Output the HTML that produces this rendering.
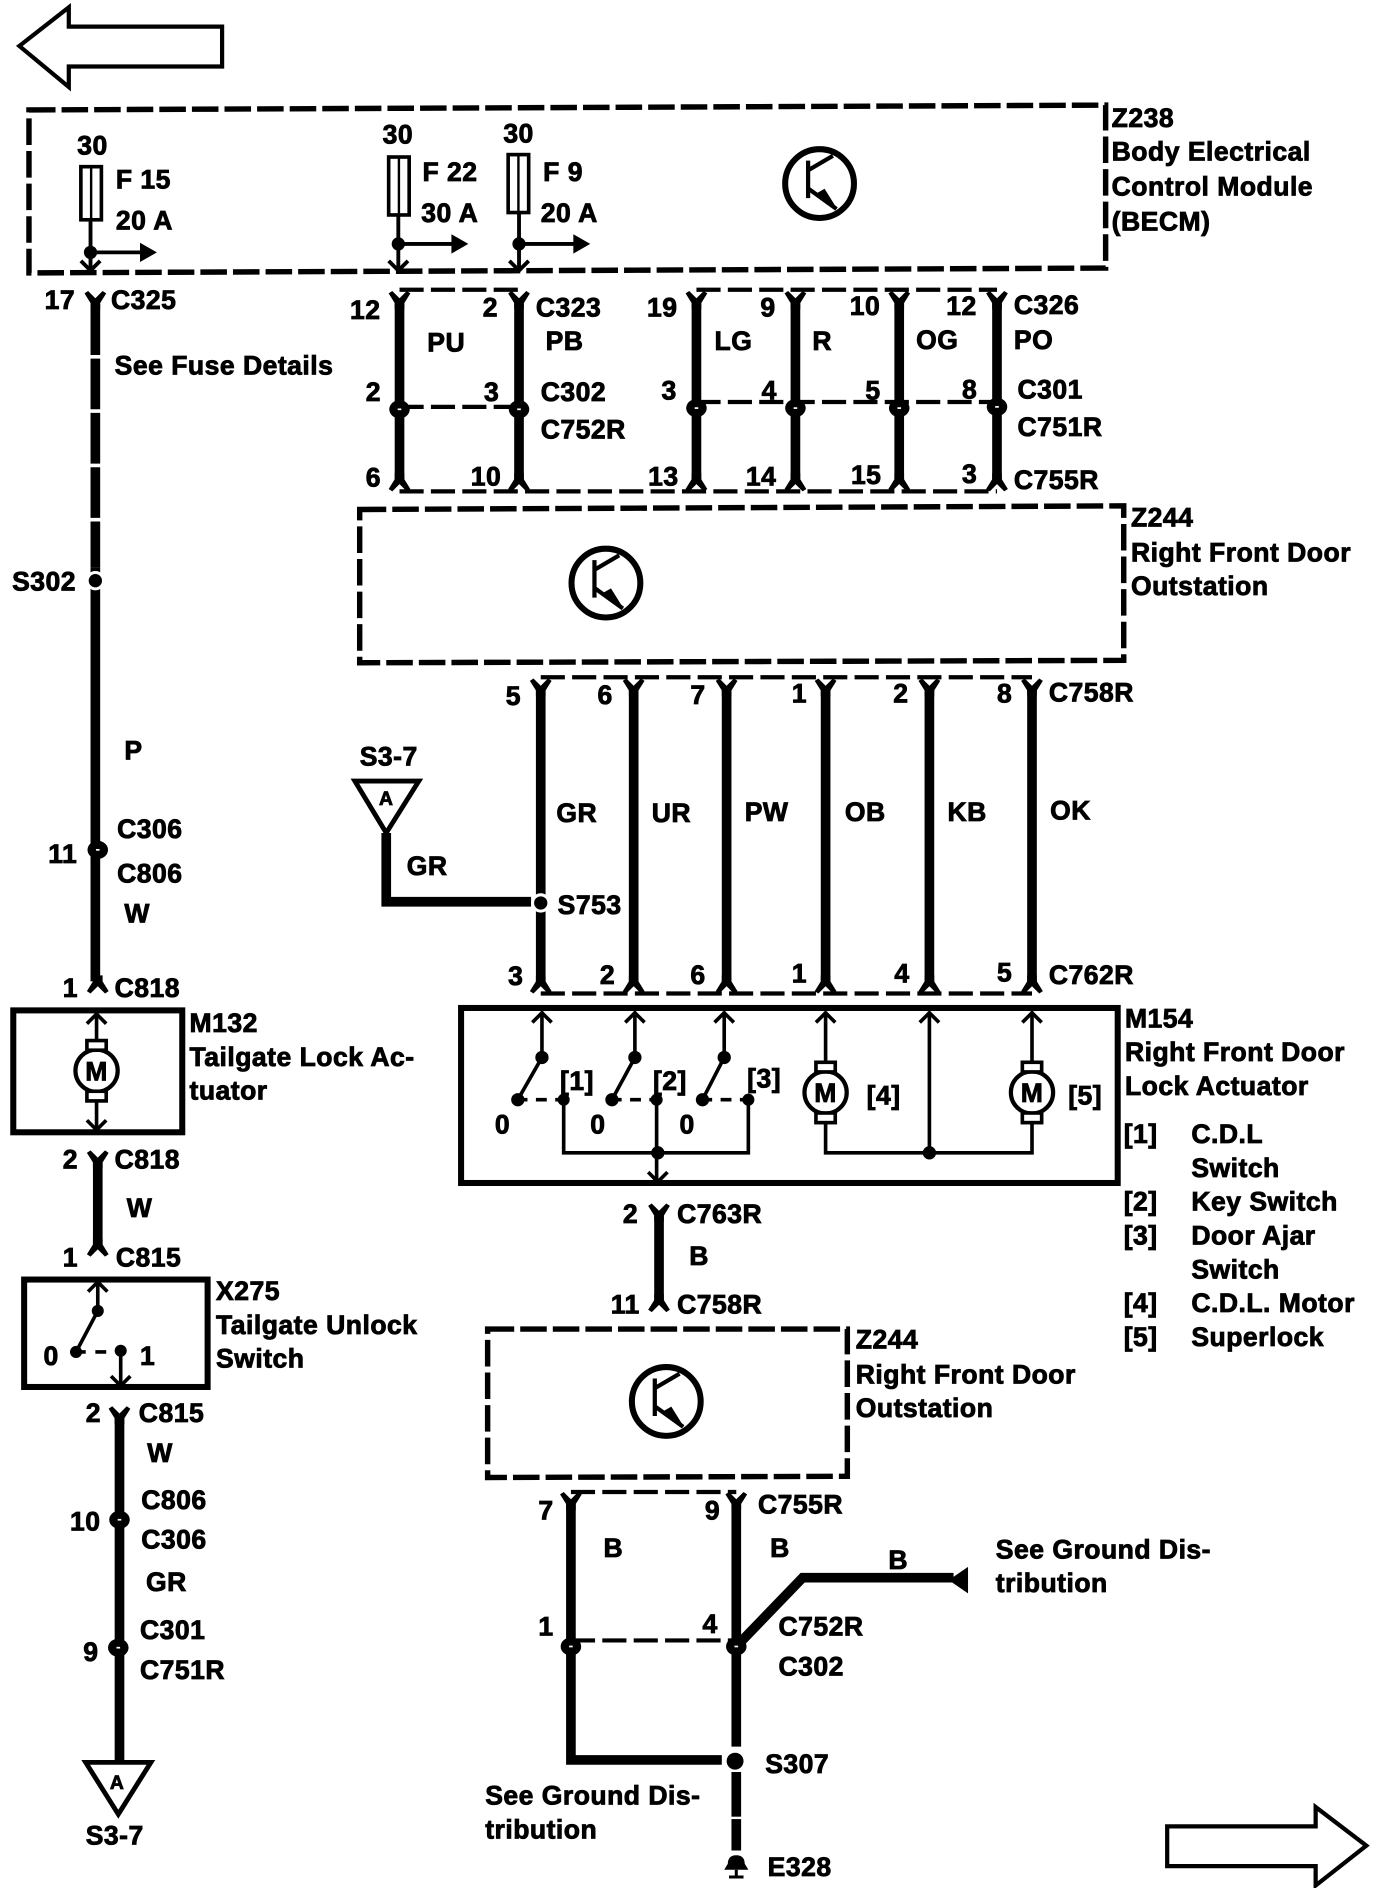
<!DOCTYPE html>
<html><head><meta charset="utf-8"><style>
html,body{margin:0;padding:0;background:#fff}
svg{display:block}
text{font-family:"Liberation Sans",sans-serif;font-weight:bold;font-size:22px;fill:#000;stroke:#000;stroke-width:.7;letter-spacing:.4px}
</style></head><body>
<svg width="1376" height="1888" viewBox="0 0 1140 1564" xmlns="http://www.w3.org/2000/svg">
<defs>
<g id="tr" fill="none" stroke="#000"><circle r="28.500" stroke-width="5"/><path d="M-9.500,-19V12M-9.500,-11L11,-23M-9.500,4L14,21" stroke-width="3.500"/><path d="M-3,9L4,5L14,21Z" fill="#000" stroke-width="1"/></g>
<path id="fd" d="M-4,10V5L-9,-3L-6,-5L0,1L6,-5L9,-3L4,5V10Z" fill="#000"/>
<path id="fu" d="M-4,-10V-5L-9,3L-6,5L0,-1L6,5L9,3L4,-5V-10Z" fill="#000"/>
<g id="cj"><ellipse rx="8.500" ry="7.500" fill="#000"/><rect x="-1.500" y="-.7" width="3" height="1.400" fill="#fff"/></g>
<g id="m"><circle r="17.500" fill="#fff" stroke="#000" stroke-width="3.500"/><rect x="-8" y="-25" width="16" height="8" fill="#fff" stroke="#000" stroke-width="3"/><rect x="-8" y="17" width="16" height="8" fill="#fff" stroke="#000" stroke-width="3"/><text x="0" y="8" text-anchor="middle">M</text></g>
</defs>
<rect width="1140" height="1564" fill="#fff"/>
<g fill="none" stroke="#000" stroke-width="3.500">
<path d="M16,38L57,6V22H184V55H57V72Z"/>
<path d="M967,1513H1090V1497L1132,1529L1090,1562V1546H967Z"/>
</g>
<g fill="none" stroke="#000" stroke-width="4.500" stroke-dasharray="22 5">
<path d="M24,91L916,87V222L24,226Z"/>
<path d="M298,422L931,419V547L298,549Z"/>
<path d="M404,1101H702V1223L404,1224Z"/>
</g>
<g fill="none" stroke="#000" stroke-width="3.500" stroke-dasharray="20 6">
<path d="M331,240H430M577,240H826M331,407H826M331,337H430M577,333H826M448,561H855M448,823H855M473,1236H610M473,1359H610"/>
</g>
<use href="#tr" x="679" y="152"/><use href="#tr" x="502" y="483"/><use href="#tr" x="552" y="1161"/>
<!-- fuses -->
<g fill="#fff" stroke="#000" stroke-width="3">
<rect x="67" y="138" width="17" height="44"/><rect x="322" y="130" width="17" height="48"/><rect x="421" y="128" width="17" height="48"/>
</g>
<path d="M75.500,138V182M330.500,130V178M429.500,128V176" stroke="#000" stroke-width="2"/>
<g stroke="#000" stroke-width="3.200" fill="none">
<path d="M75,182V224M75,209H118M330,178V224M330,202H376M430,176V224M430,202H477"/>
<path d="M67,216L75,224L83,216M322,216L330,224L338,216M422,216L430,224L438,216"/>
</g>
<g fill="#000">
<circle cx="75" cy="209" r="5.500"/><circle cx="330" cy="202" r="5.500"/><circle cx="430" cy="202" r="5.500"/>
<path d="M116,201L130,209L116,217ZM374,194L388,202L374,210ZM475,194L489,202L475,210Z"/>
</g>
<!-- thick wires -->
<g stroke="#000" stroke-width="8" fill="none">
<path d="M79,252V470" stroke-dasharray="42 3"/>
<path d="M79,470V813M81,963V1031M99,1175V1460M331,251V397M430,251V397M577,251V397M659,251V397M745,251V397M826,251V397M448,572V813M525,572V813M602,572V813M684,572V813M770,572V813M855,572V813M546,1007V1077M473,1246V1458H598M610,1246V1447M610,1468V1533M610,1364L665,1307H790"/>
<path d="M320,690V747H440"/>
<path d="M610,1505V1507" stroke="#fff" stroke-width="9"/>
</g>
<path d="M802,1298V1320L786,1309Z" fill="#000"/>
<circle cx="79" cy="481" r="8" fill="#fff"/><circle cx="448" cy="748" r="8" fill="#fff"/>
<g fill="#000">
<circle cx="79" cy="481" r="5.500"/><circle cx="448" cy="748" r="5.500"/><circle cx="609" cy="1459" r="7"/>
</g>
<!-- connector markers -->
<g>
<use href="#fd" x="79" y="246"/><use href="#fu" x="81" y="818"/><use href="#fd" x="81" y="958"/><use href="#fu" x="81" y="1036"/>
<use href="#fd" x="99" y="1170"/><use href="#fd" x="546" y="1002"/><use href="#fu" x="546" y="1082"/>
<use href="#fd" x="331" y="246"/><use href="#fd" x="430" y="246"/><use href="#fd" x="577" y="246"/><use href="#fd" x="659" y="246"/><use href="#fd" x="745" y="246"/><use href="#fd" x="826" y="246"/>
<use href="#fu" x="331" y="402"/><use href="#fu" x="430" y="402"/><use href="#fu" x="577" y="402"/><use href="#fu" x="659" y="402"/><use href="#fu" x="745" y="402"/><use href="#fu" x="826" y="402"/>
<use href="#fd" x="448" y="567"/><use href="#fd" x="525" y="567"/><use href="#fd" x="602" y="567"/><use href="#fd" x="684" y="567"/><use href="#fd" x="770" y="567"/><use href="#fd" x="855" y="567"/>
<use href="#fu" x="448" y="818"/><use href="#fu" x="525" y="818"/><use href="#fu" x="602" y="818"/><use href="#fu" x="684" y="818"/><use href="#fu" x="770" y="818"/><use href="#fu" x="855" y="818"/>
<use href="#fd" x="473" y="1241"/><use href="#fd" x="610" y="1241"/>
<use href="#cj" x="331" y="339"/><use href="#cj" x="430" y="339"/><use href="#cj" x="577" y="338"/><use href="#cj" x="659" y="338"/><use href="#cj" x="745" y="338"/><use href="#cj" x="826" y="337"/>
<use href="#cj" x="81" y="704"/><use href="#cj" x="99" y="1259"/><use href="#cj" x="98" y="1365"/><use href="#cj" x="473" y="1364"/><use href="#cj" x="610" y="1364"/>
</g>
<!-- triangles -->
<path d="M294,647H347L320,690Z M71,1460H125L98,1503Z" fill="#fff" stroke="#000" stroke-width="4"/>
<!-- boxes -->
<g fill="none" stroke="#000" stroke-width="5">
<rect x="11" y="837" width="140" height="101"/><rect x="20" y="1060" width="152" height="89"/><rect x="382" y="835" width="544" height="145"/>
</g>
<g fill="none" stroke="#000" stroke-width="3">
<path d="M80,840V936M81,1062V1086L63,1120M100,1119V1148"/>
<path d="M449,838V876L429,911M526,838V876L507,911M600,838V876L582,911M467,911V955H620V911M544,911V980M684,838V955H855V838M770,838V955"/>
<path d="M63,1120H100" stroke-dasharray="8 8 9 8 6"/>
<path d="M429,911H467M507,911H544M582,911H620" stroke-dasharray="8 7 9 7 8"/>
<path d="M72,848L80,840L88,848M72,928L80,936L88,928M73,1070L81,1062L89,1070M92,1140L100,1148L108,1140M441,847L449,839L457,847M518,847L526,839L534,847M592,847L600,839L608,847M676,847L684,839L692,847M762,847L770,839L778,847M847,847L855,839L863,847M537,971L545,979L553,971"/>
</g>
<g fill="#000">
<circle cx="81" cy="1086" r="5"/><circle cx="63" cy="1120" r="5"/><circle cx="100" cy="1119" r="5"/>
<circle cx="449" cy="876" r="5.500"/><circle cx="526" cy="876" r="5.500"/><circle cx="600" cy="876" r="5.500"/>
<circle cx="429" cy="911" r="5.500"/><circle cx="507" cy="911" r="5.500"/><circle cx="582" cy="911" r="5.500"/>
<circle cx="467" cy="911" r="5"/><circle cx="544" cy="911" r="5"/><circle cx="620" cy="911" r="5"/>
<circle cx="545" cy="955" r="5.500"/><circle cx="770" cy="955" r="5.500"/>
</g>
<use href="#m" x="80" y="887"/><use href="#m" x="684" y="905"/><use href="#m" x="855" y="905"/>
<!-- ground -->
<path d="M610,1537C605,1537 603,1540 603,1544L600,1549H620L617,1544C617,1540 615,1537 610,1537Z" fill="#000"/>
<path d="M610,1549V1555M604,1555H616" stroke="#000" stroke-width="2.500" fill="none"/>
<!-- labels -->
<text x="64" y="128">30</text><text x="96" y="156">F 15</text><text x="96" y="190">20 A</text>
<text x="317" y="119">30</text><text x="350" y="150">F 22</text><text x="349" y="184">30 A</text>
<text x="417" y="118">30</text><text x="450" y="150">F 9</text><text x="448" y="184">20 A</text>
<text x="921" y="105">Z238</text><text x="921" y="133">Body Electrical</text><text x="921" y="162">Control Module</text><text x="921" y="191">(BECM)</text>
<text x="37" y="256">17</text><text x="92" y="256">C325</text><text x="95" y="310">See Fuse Details</text>
<text x="10" y="489">S302</text><text x="103" y="629">P</text><text x="97" y="694">C306</text><text x="40" y="715">11</text><text x="97" y="731">C806</text><text x="103" y="764">W</text>
<text x="52" y="826">1</text><text x="95" y="826">C818</text>
<text x="157" y="855">M132</text><text x="157" y="883">Tailgate Lock Ac-</text><text x="157" y="911">tuator</text>
<text x="52" y="968">2</text><text x="95" y="968">C818</text><text x="105" y="1008">W</text><text x="52" y="1049">1</text><text x="96" y="1049">C815</text>
<text x="36" y="1131">0</text><text x="116" y="1131">1</text>
<text x="179" y="1077">X275</text><text x="179" y="1105">Tailgate Unlock</text><text x="179" y="1133">Switch</text>
<text x="71" y="1178">2</text><text x="115" y="1178">C815</text><text x="122" y="1211">W</text><text x="117" y="1250">C806</text><text x="58" y="1268">10</text><text x="117" y="1283">C306</text><text x="121" y="1318">GR</text><text x="116" y="1358">C301</text><text x="69" y="1376">9</text><text x="116" y="1391">C751R</text>
<text x="91" y="1482" style="font-size:16px">A</text><text x="71" y="1528">S3-7</text>
<text x="290" y="264">12</text><text x="400" y="262">2</text><text x="444" y="262">C323</text><text x="536" y="262">19</text><text x="630" y="262">9</text><text x="704" y="261">10</text><text x="784" y="261">12</text><text x="840" y="260">C326</text>
<text x="354" y="291">PU</text><text x="452" y="290">PB</text><text x="592" y="290">LG</text><text x="673" y="290">R</text><text x="759" y="289">OG</text><text x="840" y="289">PO</text>
<text x="303" y="332">2</text><text x="401" y="332">3</text><text x="448" y="332">C302</text><text x="548" y="331">3</text><text x="631" y="331">4</text><text x="717" y="331">5</text><text x="797" y="330">8</text><text x="843" y="330">C301</text>
<text x="448" y="363">C752R</text><text x="843" y="361">C751R</text>
<text x="303" y="403">6</text><text x="390" y="402">10</text><text x="537" y="402">13</text><text x="618" y="402">14</text><text x="705" y="401">15</text><text x="797" y="400">3</text><text x="840" y="405">C755R</text>
<text x="937" y="436">Z244</text><text x="937" y="465">Right Front Door</text><text x="937" y="493">Outstation</text>
<text x="419" y="584">5</text><text x="495" y="583">6</text><text x="572" y="583">7</text><text x="656" y="582">1</text><text x="740" y="582">2</text><text x="826" y="582">8</text><text x="869" y="581">C758R</text>
<text x="461" y="681">GR</text><text x="540" y="681">UR</text><text x="617" y="680">PW</text><text x="700" y="680">OB</text><text x="785" y="680">KB</text><text x="870" y="679">OK</text>
<text x="298" y="634">S3-7</text><text x="314" y="667" style="font-size:16px">A</text><text x="337" y="725">GR</text><text x="462" y="757">S753</text>
<text x="421" y="816">3</text><text x="497" y="815">2</text><text x="572" y="815">6</text><text x="656" y="814">1</text><text x="741" y="814">4</text><text x="826" y="813">5</text><text x="869" y="815">C762R</text>
<text x="464" y="903">[1]</text><text x="541" y="903">[2]</text><text x="619" y="901">[3]</text><text x="410" y="939">0</text><text x="489" y="939">0</text><text x="563" y="939">0</text>
<text x="718" y="915">[4]</text><text x="885" y="915">[5]</text>
<text x="932" y="851">M154</text><text x="932" y="879">Right Front Door</text><text x="932" y="907">Lock Actuator</text>
<text x="931" y="947">[1]</text><text x="987" y="947">C.D.L</text><text x="987" y="975">Switch</text>
<text x="931" y="1003">[2]</text><text x="987" y="1003">Key Switch</text>
<text x="931" y="1031">[3]</text><text x="987" y="1031">Door Ajar</text><text x="987" y="1059">Switch</text>
<text x="931" y="1087">[4]</text><text x="987" y="1087">C.D.L. Motor</text>
<text x="931" y="1115">[5]</text><text x="987" y="1115">Superlock</text>
<text x="516" y="1013">2</text><text x="561" y="1013">C763R</text><text x="571" y="1048">B</text><text x="506" y="1088">11</text><text x="561" y="1088">C758R</text>
<text x="709" y="1117">Z244</text><text x="709" y="1146">Right Front Door</text><text x="709" y="1174">Outstation</text>
<text x="446" y="1259">7</text><text x="584" y="1259">9</text><text x="628" y="1254">C755R</text><text x="500" y="1290">B</text><text x="638" y="1290">B</text><text x="736" y="1300">B</text>
<text x="825" y="1291">See Ground Dis-</text><text x="825" y="1319">tribution</text>
<text x="446" y="1355">1</text><text x="582" y="1353">4</text><text x="645" y="1355">C752R</text><text x="645" y="1388">C302</text>
<text x="634" y="1469">S307</text><text x="402" y="1495">See Ground Dis-</text><text x="402" y="1523">tribution</text><text x="636" y="1554">E328</text>
</svg>
</body></html>
